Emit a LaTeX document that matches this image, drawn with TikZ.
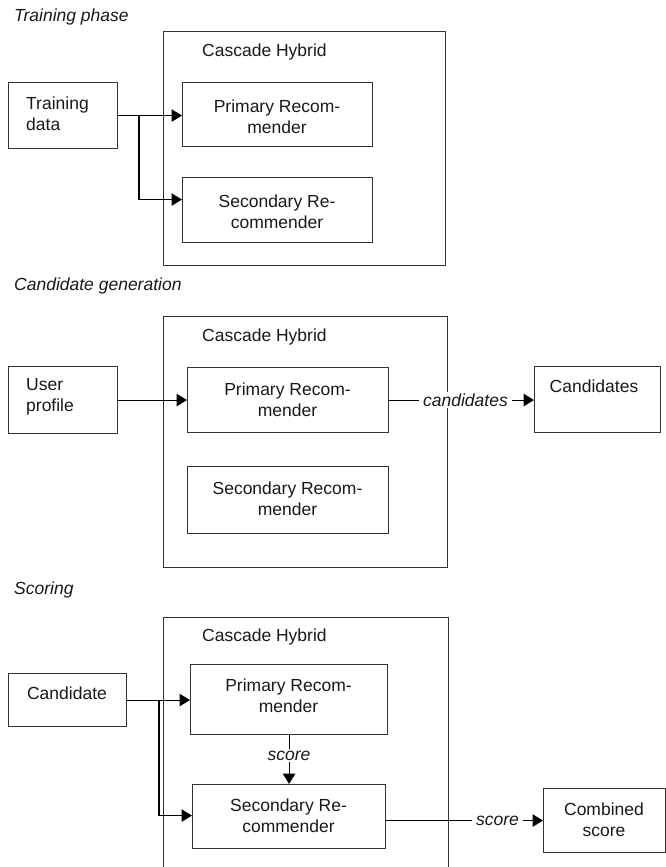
\documentclass[tikz,border=0pt]{standalone}
\usepackage{fontspec}
\setmainfont{Liberation Sans}
\usetikzlibrary{arrows.meta}
\begin{document}
\begin{tikzpicture}[x=1pt,y=-1pt,
  box/.style={draw=black!80, line width=1.1pt, inner sep=0pt, anchor=north west},
  txt/.style={font=\fontsize{17.5}{21}\selectfont, align=center, inner sep=0pt, text=black!90},
  ttl/.style={txt, font=\fontsize{17.5}{21}\selectfont\itshape, anchor=west},
  lbl/.style={txt, font=\fontsize{17.5}{21}\selectfont\itshape, fill=white, inner xsep=4pt, inner ysep=2pt},
  arr/.style={draw=black, line width=1.1pt, -{Triangle[length=10.5pt,width=12.5pt]}}
]
\useasboundingbox (0,0) rectangle (666,867);
\clip (0,0) rectangle (666,867);

% ---------- Training phase ----------
\node[ttl] (t1) at (14,17) {Training phase};
\node[box, minimum width=282pt, minimum height=234pt] (ch1) at (163,31) {};
\node[txt, anchor=west] (ch1t) at (202,52) {Cascade Hybrid};
\node[box, minimum width=109pt, minimum height=66pt] (td1) at (8,82) {};
\node[txt, align=left, anchor=west] (td1t) at (26,113.5) {Training\\data};
\node[box, minimum width=190pt, minimum height=64pt] (p1) at (182,82) {};
\node[txt] (p1t) at (277,117) {Primary Recom-\\mender};
\node[box, minimum width=190pt, minimum height=65pt] (s1) at (182,177) {};
\node[txt] (s1t) at (277,211.5) {Secondary Re-\\commender};
\coordinate (b1) at (139,115);
\draw[arr] (td1.east) -- (td1.east -| p1.west);
\draw[arr] (b1) |- ([yshift=10.5pt]s1.west);

% ---------- Candidate generation ----------
\node[ttl] (t2) at (14,286) {Candidate generation};
\node[box, minimum width=284pt, minimum height=251pt] (ch2) at (163,316) {};
\node[txt, anchor=west] (ch2t) at (202,337) {Cascade Hybrid};
\node[box, minimum width=109pt, minimum height=67pt] (up2) at (8,366) {};
\node[txt, align=left, anchor=west] (up2t) at (26,397) {User\\profile};
\node[box, minimum width=201pt, minimum height=65pt] (p2) at (187,367) {};
\node[txt] (p2t) at (287.5,399.5) {Primary Recom-\\mender};
\node[box, minimum width=201pt, minimum height=67pt] (s2) at (187,466) {};
\node[txt] (s2t) at (287.5,498.5) {Secondary Recom-\\mender};
\node[box, minimum width=126pt, minimum height=66pt] (cd2) at (534,366) {};
\node[txt] (cd2t) at (594,386) {Candidates};
\draw[arr] (up2.east) -- (up2.east -| p2.west);
\draw[arr] (p2.east) -- node[lbl, pos=0.527] {candidates} (p2.east -| cd2.west);

% ---------- Scoring ----------
\node[ttl] (t3) at (14,590) {Scoring};
\node[box, minimum width=285pt, minimum height=273pt] (ch3) at (163,617) {};
\node[txt, anchor=west] (ch3t) at (202,637) {Cascade Hybrid};
\node[box, minimum width=118pt, minimum height=53pt] (cn3) at (8,673) {};
\node[txt] (cn3t) at (67,693) {Candidate};
\node[box, minimum width=197pt, minimum height=70pt] (p3) at (190,664) {};
\node[txt] (p3t) at (288.5,696) {Primary Recom-\\mender};
\node[box, minimum width=193pt, minimum height=64pt] (s3) at (192,784) {};
\node[txt] (s3t) at (288.5,815.5) {Secondary Re-\\commender};
\node[box, minimum width=121.5pt, minimum height=64pt] (cs3) at (543,788) {};
\node[txt] (cs3t) at (604,819.5) {Combined\\score};
\coordinate (b3) at (159,699.5);
\draw[arr] (cn3.east) -- (cn3.east -| p3.west);
\draw[arr] (b3) |- ([yshift=1pt]s3.west);
\draw[arr] (p3.south) -- node[lbl, pos=0.42] {score} (s3.north);
\draw[arr] (s3.east |- cs3.west) -- node[lbl, pos=0.71] {score} (cs3.west);
\end{tikzpicture}
\end{document}
